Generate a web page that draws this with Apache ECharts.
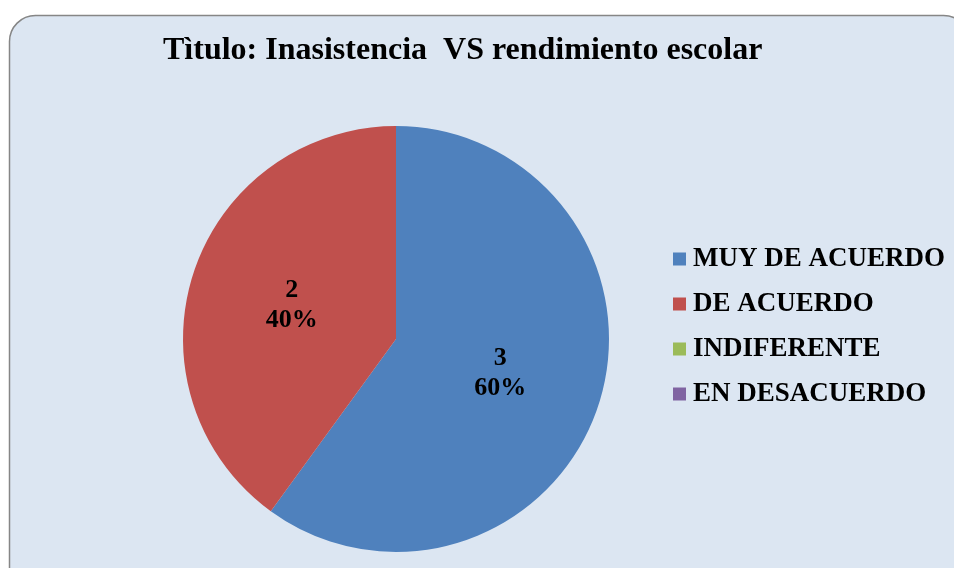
<!DOCTYPE html>
<html>
<head>
<meta charset="utf-8">
<script src="https://cdn.jsdelivr.net/npm/echarts@6/dist/echarts.min.js"></script>
<style>
html,body{margin:0;padding:0;background:#fff;}
#c{width:954px;height:568px;}
</style>
</head>
<body>
<div id="c"></div>
<script>
const titleText = 'Tìtulo: Inasistencia  VS rendimiento escolar';
const categories = ['MUY DE ACUERDO', 'DE ACUERDO', 'INDIFERENTE', 'EN DESACUERDO'];
const values = [3, 2, 0, 0];
const colors = ['#4F81BD', '#C0504D', '#9BBB59', '#8064A2'];

const serif = '"Liberation Serif", "Times New Roman", serif';
const chart = echarts.init(document.getElementById('c'));
chart.setOption({
  animation: false,
  graphic: [{
    type: 'rect',
    z: -10,
    shape: { x: 9.5, y: 15.5, width: 960, height: 580, r: 26 },
    style: { fill: '#DCE6F2', stroke: '#868686', lineWidth: 1.5 }
  }],
  title: {
    text: titleText,
    left: 158,
    top: 30,
    textStyle: { fontFamily: serif, fontSize: 32, fontWeight: 'bold', color: '#000' }
  },
  legend: {
    orient: 'vertical',
    left: 668,
    top: 240,
    icon: 'rect',
    itemWidth: 13,
    itemHeight: 13,
    itemGap: 17,
    textStyle: { fontFamily: serif, fontSize: 27, fontWeight: 'bold', color: '#000', lineHeight: 28, padding: [0, 0, 0, 2] },
    data: categories
  },
  series: [{
    type: 'pie',
    center: [396, 339],
    radius: 213,
    startAngle: 90,
    clockwise: true,
    itemStyle: { borderWidth: 0 },
    label: {
      show: true,
      position: 'inside',
      formatter: '{c}\n{d}%',
      fontFamily: serif,
      fontSize: 26,
      fontWeight: 'bold',
      color: '#000',
      lineHeight: 30
    },
    labelLine: { show: false },
    emphasis: { disabled: true },
    data: categories.map((name, i) => ({
      name: name,
      value: values[i],
      itemStyle: { color: colors[i] },
      label: { show: values[i] > 0 }
    }))
  }]
});
</script>
</body>
</html>
